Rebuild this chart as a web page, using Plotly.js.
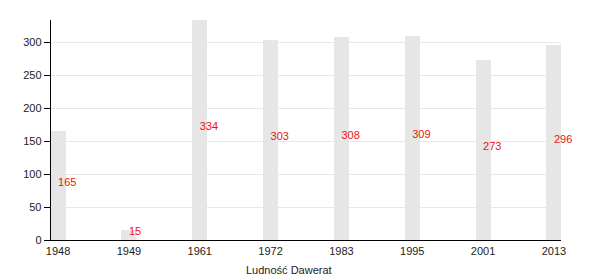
<!DOCTYPE html>
<html><head><meta charset="utf-8">
<script src="https://cdn.plot.ly/plotly-3.0.1.min.js"></script>
<style>body{margin:0;background:#fff}#c{width:600px;height:280px}</style>
</head><body><div id="c"></div>
<script>
const years = ['1948','1949','1961','1972','1983','1995','2001','2013'];
const population = [165, 15, 334, 303, 308, 309, 273, 296];
const yTicks = [0, 50, 100, 150, 200, 250, 300];
const xTitle = 'Ludność Dawerat';

const bars = {
  type: 'bar', x: years, y: population, width: 0.21,
  marker: {color: '#e6e6e6', line: {width: 0}},
  hoverinfo: 'x+y', showlegend: false
};
const labels = {
  type: 'scatter', mode: 'text', x: years,
  y: population.map(v => v / 2 + 4),
  text: population.map(String), textposition: 'middle right',
  textfont: {color: '#ee1111', size: 11, family: 'Liberation Sans, Arial, sans-serif'},
  hoverinfo: 'skip', showlegend: false, cliponaxis: false
};
const layout = {
  width: 600, height: 280,
  margin: {l: 51, r: 39, t: 20, b: 40},
  paper_bgcolor: '#fff', plot_bgcolor: '#fff',
  font: {family: 'Liberation Sans, Arial, sans-serif', size: 11, color: '#222'},
  xaxis: {type: 'category', range: [-0.1, 7.1], showgrid: false, ticks: '',
    showline: true, linecolor: '#000', linewidth: 1.3, zeroline: false,
    tickfont: {size: 11}, fixedrange: true},
  yaxis: {range: [0, 334], tickvals: yTicks, showgrid: true, gridcolor: '#e8e8e8',
    ticks: 'outside', ticklen: 6, tickcolor: '#000', showline: true, linecolor: '#000',
    linewidth: 1.3, zeroline: false, tickfont: {size: 11}},
  annotations: [{text: xTitle, xref: 'paper', yref: 'paper', x: (289 - 51) / 510, y: 0,
    yshift: -30, showarrow: false, xanchor: 'center', yanchor: 'middle',
    font: {size: 11, color: '#222'}}],
  bargap: 0
};
Plotly.newPlot('c', [bars, labels], layout, {displayModeBar: false, staticPlot: true});
</script></body></html>
